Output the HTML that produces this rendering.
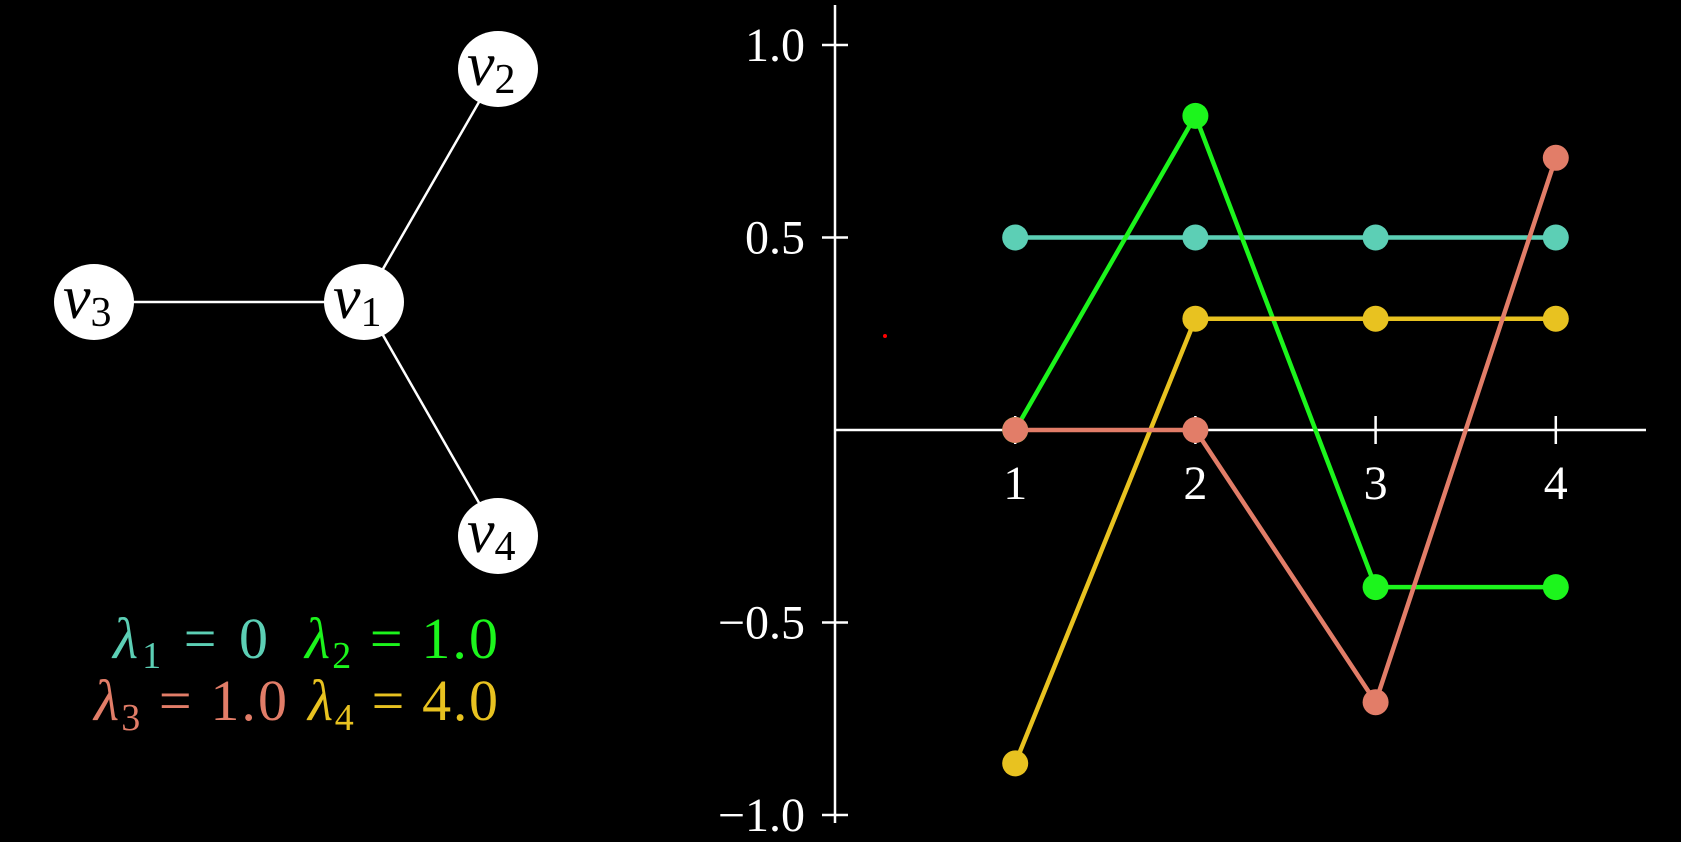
<!DOCTYPE html>
<html><head><meta charset="utf-8"><style>
html,body{margin:0;padding:0;background:#000;}
svg{display:block;}
text{font-family:"Liberation Serif",serif;}
</style></head><body>
<svg id="svg" width="1681" height="842" viewBox="0 0 1681 842">
<rect width="1681" height="842" fill="#000"/>
<g stroke="#fff" stroke-width="2.5">
<line x1="364" y1="302" x2="498" y2="69"/>
<line x1="364" y1="302" x2="94" y2="302"/>
<line x1="364" y1="302" x2="498" y2="536"/>
</g>
<g><ellipse cx="364" cy="302" rx="40" ry="38" fill="#fff"/><text x="333" y="318" font-size="62" font-style="italic">v<tspan font-size="42" font-style="normal" dy="8">1</tspan></text></g>
<g><ellipse cx="498" cy="69" rx="40" ry="38" fill="#fff"/><text x="467" y="85" font-size="62" font-style="italic">v<tspan font-size="42" font-style="normal" dy="8">2</tspan></text></g>
<g><ellipse cx="94" cy="302" rx="40" ry="38" fill="#fff"/><text x="63" y="318" font-size="62" font-style="italic">v<tspan font-size="42" font-style="normal" dy="8">3</tspan></text></g>
<g><ellipse cx="498" cy="536" rx="40" ry="38" fill="#fff"/><text x="467" y="552" font-size="62" font-style="italic">v<tspan font-size="42" font-style="normal" dy="8">4</tspan></text></g>
<g font-size="58">
<text x="113" y="658" fill="#5ccfb5" textLength="155" lengthAdjust="spacing"><tspan font-style="italic">λ</tspan><tspan font-size="38" dy="10">1</tspan><tspan dy="-10"> = 0</tspan></text>
<text x="305" y="658" fill="#1cf51c" textLength="193" lengthAdjust="spacing"><tspan font-style="italic">λ</tspan><tspan font-size="38" dy="10">2</tspan><tspan dy="-10"> = 1.0</tspan></text>
<text x="94" y="720" fill="#e27d68" textLength="193" lengthAdjust="spacing"><tspan font-style="italic">λ</tspan><tspan font-size="38" dy="10">3</tspan><tspan dy="-10"> = 1.0</tspan></text>
<text x="308" y="720" fill="#e8c220" textLength="190" lengthAdjust="spacing"><tspan font-style="italic">λ</tspan><tspan font-size="38" dy="10">4</tspan><tspan dy="-10"> = 4.0</tspan></text>
</g>
<circle cx="885" cy="336" r="2" fill="#f00"/>
<g id="chart"></g>
</svg>
<script>
const categories = [1, 2, 3, 4];
const yTicks = [1.0, 0.5, -0.5, -1.0];
const yTickLabels = ["1.0", "0.5", "\u22120.5", "\u22121.0"];
const xTickLabels = ["1", "2", "3", "4"];
const seriesNames = ["lambda1", "lambda2", "lambda4", "lambda3"];
const seriesColors = ["#5ccfb5", "#1cf51c", "#e8c220", "#e27d68"];
const s1 = [0.5, 0.5, 0.5, 0.5];
const s2 = [0, 0.816, -0.408, -0.408];
const s4 = [-0.866, 0.289, 0.289, 0.289];
const s3 = [0, 0, -0.707, 0.707];
const series = [s1, s2, s4, s3];

const NS = "http://www.w3.org/2000/svg";
const g = document.getElementById("chart");
const X0 = 835, XSTEP = 180.2, Y0 = 430, YUNIT = 385;
const xs = c => X0 + c * XSTEP;
const ys = v => Y0 - v * YUNIT;
function mk(tag, attrs, parent) {
  const e = document.createElementNS(NS, tag);
  for (const k in attrs) e.setAttribute(k, attrs[k]);
  (parent || g).appendChild(e);
  return e;
}
let e = mk("line", {x1: X0, y1: 5, x2: X0, y2: 823, stroke: "#fff", "stroke-width": 2.5});


e = mk("line", {x1: X0, y1: Y0, x2: 1646, y2: Y0, stroke: "#fff", "stroke-width": 2.5});


yTicks.forEach((v, i) => {
  let t = mk("line", {x1: X0 - 13, y1: ys(v), x2: X0 + 13, y2: ys(v), stroke: "#fff", "stroke-width": 2.5});
  
  
  let l = mk("text", {x: 805, y: ys(v) + 16, fill: "#fff", "font-size": 48, "text-anchor": "end"});
  l.textContent = yTickLabels[i];
  
  
});
categories.forEach((c, i) => {
  let t = mk("line", {x1: xs(c), y1: Y0 - 14, x2: xs(c), y2: Y0 + 14, stroke: "#fff", "stroke-width": 2.5});
  
  
  let l = mk("text", {x: xs(c), y: 499, fill: "#fff", "font-size": 48, "text-anchor": "middle"});
  l.textContent = xTickLabels[i];
  
  
});
series.forEach((vals, si) => {
  const grp = mk("g", {});
  
  
  const pts = vals.map((v, i) => xs(categories[i]) + "," + ys(v)).join(" ");
  const pl = mk("polyline", {points: pts, fill: "none", stroke: seriesColors[si], "stroke-width": 4.5, "stroke-linejoin": "round"}, grp);
  
  
  vals.forEach((v, i) => {
    const c = mk("circle", {cx: xs(categories[i]), cy: ys(v), r: 13, fill: seriesColors[si]}, grp);
    
    
  });
});
</script>
</body></html>
